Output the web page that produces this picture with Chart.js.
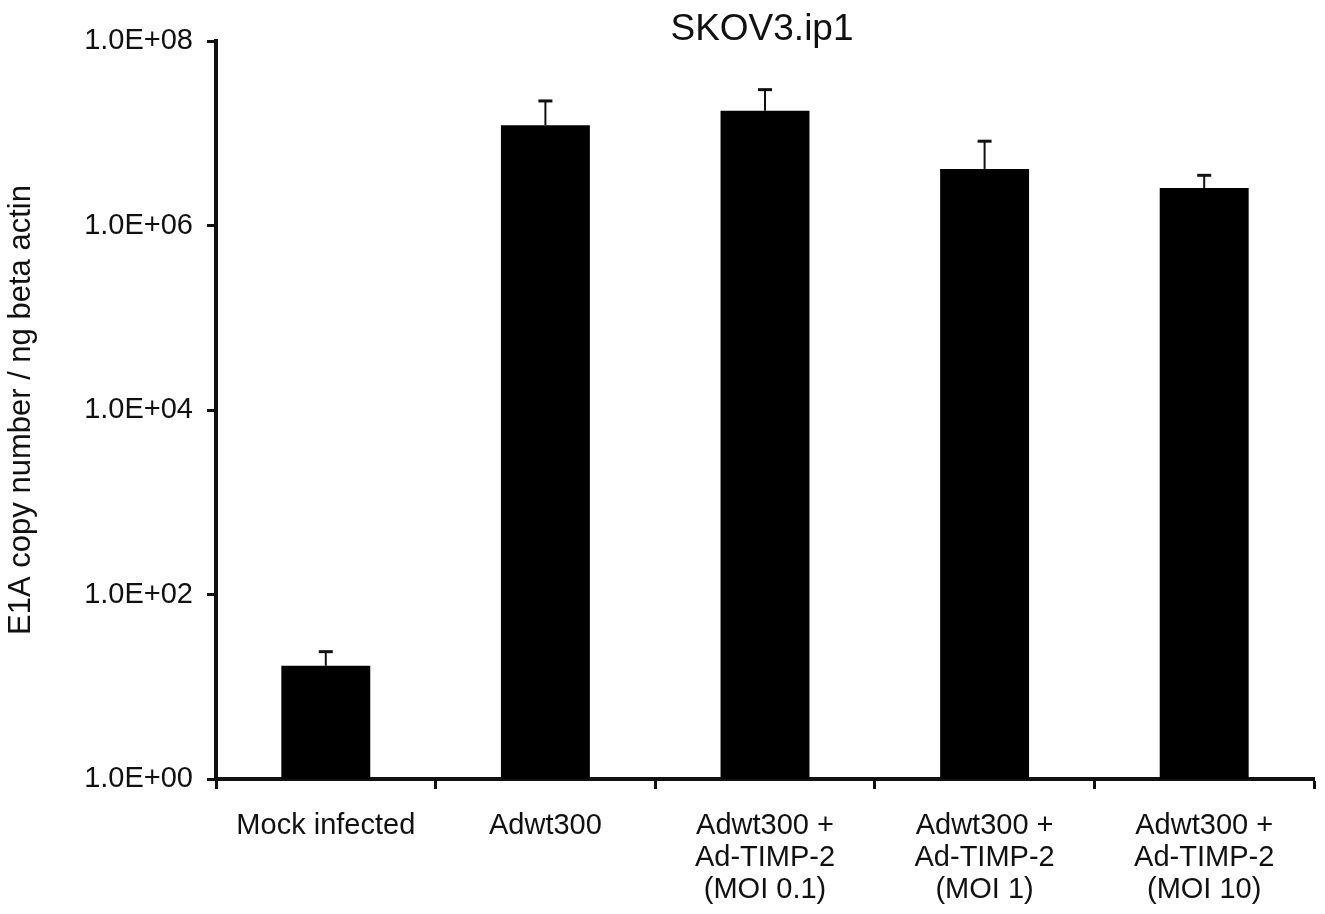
<!DOCTYPE html>
<html>
<head>
<meta charset="utf-8">
<script src="https://cdn.jsdelivr.net/npm/chart.js@4/dist/chart.umd.min.js"></script>
<style>
  body { margin: 0; background: #fff; }
  #wrap { width: 1325px; height: 914px; }
</style>
</head>
<body>
<div id="wrap"><canvas id="canvas" width="1325" height="914"></canvas></div>
<script>
/* Chart data. */
const categories = [
  "Mock infected",
  "Adwt300",
  ["Adwt300 +", "Ad-TIMP-2", "(MOI 0.1)"],
  ["Adwt300 +", "Ad-TIMP-2", "(MOI 1)"],
  ["Adwt300 +", "Ad-TIMP-2", "(MOI 10)"]
]
const copyNumbers = [16.9, 1.22e7, 1.75e7, 4.1e6, 2.55e6]
const errorsPlus = [7.1, 1.02e7, 1.22e7, 4.1e6, 0.95e6]
const yTicks = [1, 1e2, 1e4, 1e6, 1e8]
const chartTitle = "SKOV3.ip1"
const yTitle = "E1A copy number / ng beta actin"

const FONT = "'Liberation Sans', Arial, sans-serif"
const INK = "#111"

/* Format like 1.0E+06. */
const sciLabel = value => {
  const exp = Math.round(Math.log10(value))
  return "1.0E+" + String(exp).padStart(2, "0")
}

/* Draws the upper error bars on top of each bar. */
const errorBars = {
  id: "errorBars",
  afterDatasetsDraw(chart) {
    const ctx = chart.ctx
    const y = chart.scales.y
    const meta = chart.getDatasetMeta(0)
    ctx.save()
    ctx.strokeStyle = INK
    meta.data.forEach((bar, i) => {
      const top = y.getPixelForValue(copyNumbers[i] + errorsPlus[i])
      ctx.lineWidth = 2
      ctx.beginPath()
      ctx.moveTo(bar.x, bar.y)
      ctx.lineTo(bar.x, top)
      ctx.stroke()
      ctx.lineWidth = 3
      ctx.beginPath()
      ctx.moveTo(bar.x - 7, top)
      ctx.lineTo(bar.x + 7, top)
      ctx.stroke()
    })
    ctx.restore()
  }
}

/* Title drawn at the top, level with the axis top. */
const topTitle = {
  id: "topTitle",
  afterDraw(chart) {
    const ctx = chart.ctx
    const area = chart.chartArea
    ctx.save()
    ctx.fillStyle = INK
    ctx.font = "37px " + FONT
    ctx.textAlign = "center"
    ctx.textBaseline = "alphabetic"
    ctx.fillText(chartTitle, (area.left + area.right) / 2 - 3, 40)
    ctx.restore()
  }
}

const ctx = document.getElementById("canvas").getContext("2d")
const chart = new Chart(ctx, {
  type: "bar",
  data: {
    labels: categories,
    datasets: [{
      data: copyNumbers,
      backgroundColor: "#000",
      borderWidth: 0,
      barPercentage: 0.405,
      categoryPercentage: 1
    }]
  },
  options: {
    responsive: false,
    animation: false,
    layout: {
      padding: { top: 41, right: 11, left: 0, bottom: 0 }
    },
    plugins: {
      legend: { display: false },
      tooltip: { enabled: false }
    },
    scales: {
      x: {
        grid: {
          offset: true,
          drawOnChartArea: false,
          drawTicks: true,
          tickLength: 10,
          tickWidth: 3,
          tickColor: INK
        },
        border: { display: true, color: INK, width: 4 },
        ticks: {
          color: INK,
          padding: 21,
          maxRotation: 0,
          autoSkip: false,
          font: { family: FONT, size: 29, lineHeight: 1.1 }
        },
        afterFit: scale => { scale.height = 135 }
      },
      y: {
        type: "logarithmic",
        min: 1,
        max: 1e8,
        afterBuildTicks: scale => {
          scale.ticks = yTicks.map(v => ({ value: v, major: true }))
        },
        grid: {
          drawOnChartArea: false,
          drawTicks: true,
          tickLength: 9,
          tickWidth: 3,
          tickColor: INK
        },
        border: { display: true, color: INK, width: 4 },
        ticks: {
          color: INK,
          padding: 14,
          font: { family: FONT, size: 29 },
          callback: value => sciLabel(value)
        },
        title: {
          display: true,
          text: yTitle,
          color: INK,
          padding: { top: 3, bottom: 0 },
          font: { family: FONT, size: 31 }
        },
        afterFit: scale => { scale.width = 216 }
      }
    }
  },
  plugins: [errorBars, topTitle]
})
</script>
</body>
</html>
